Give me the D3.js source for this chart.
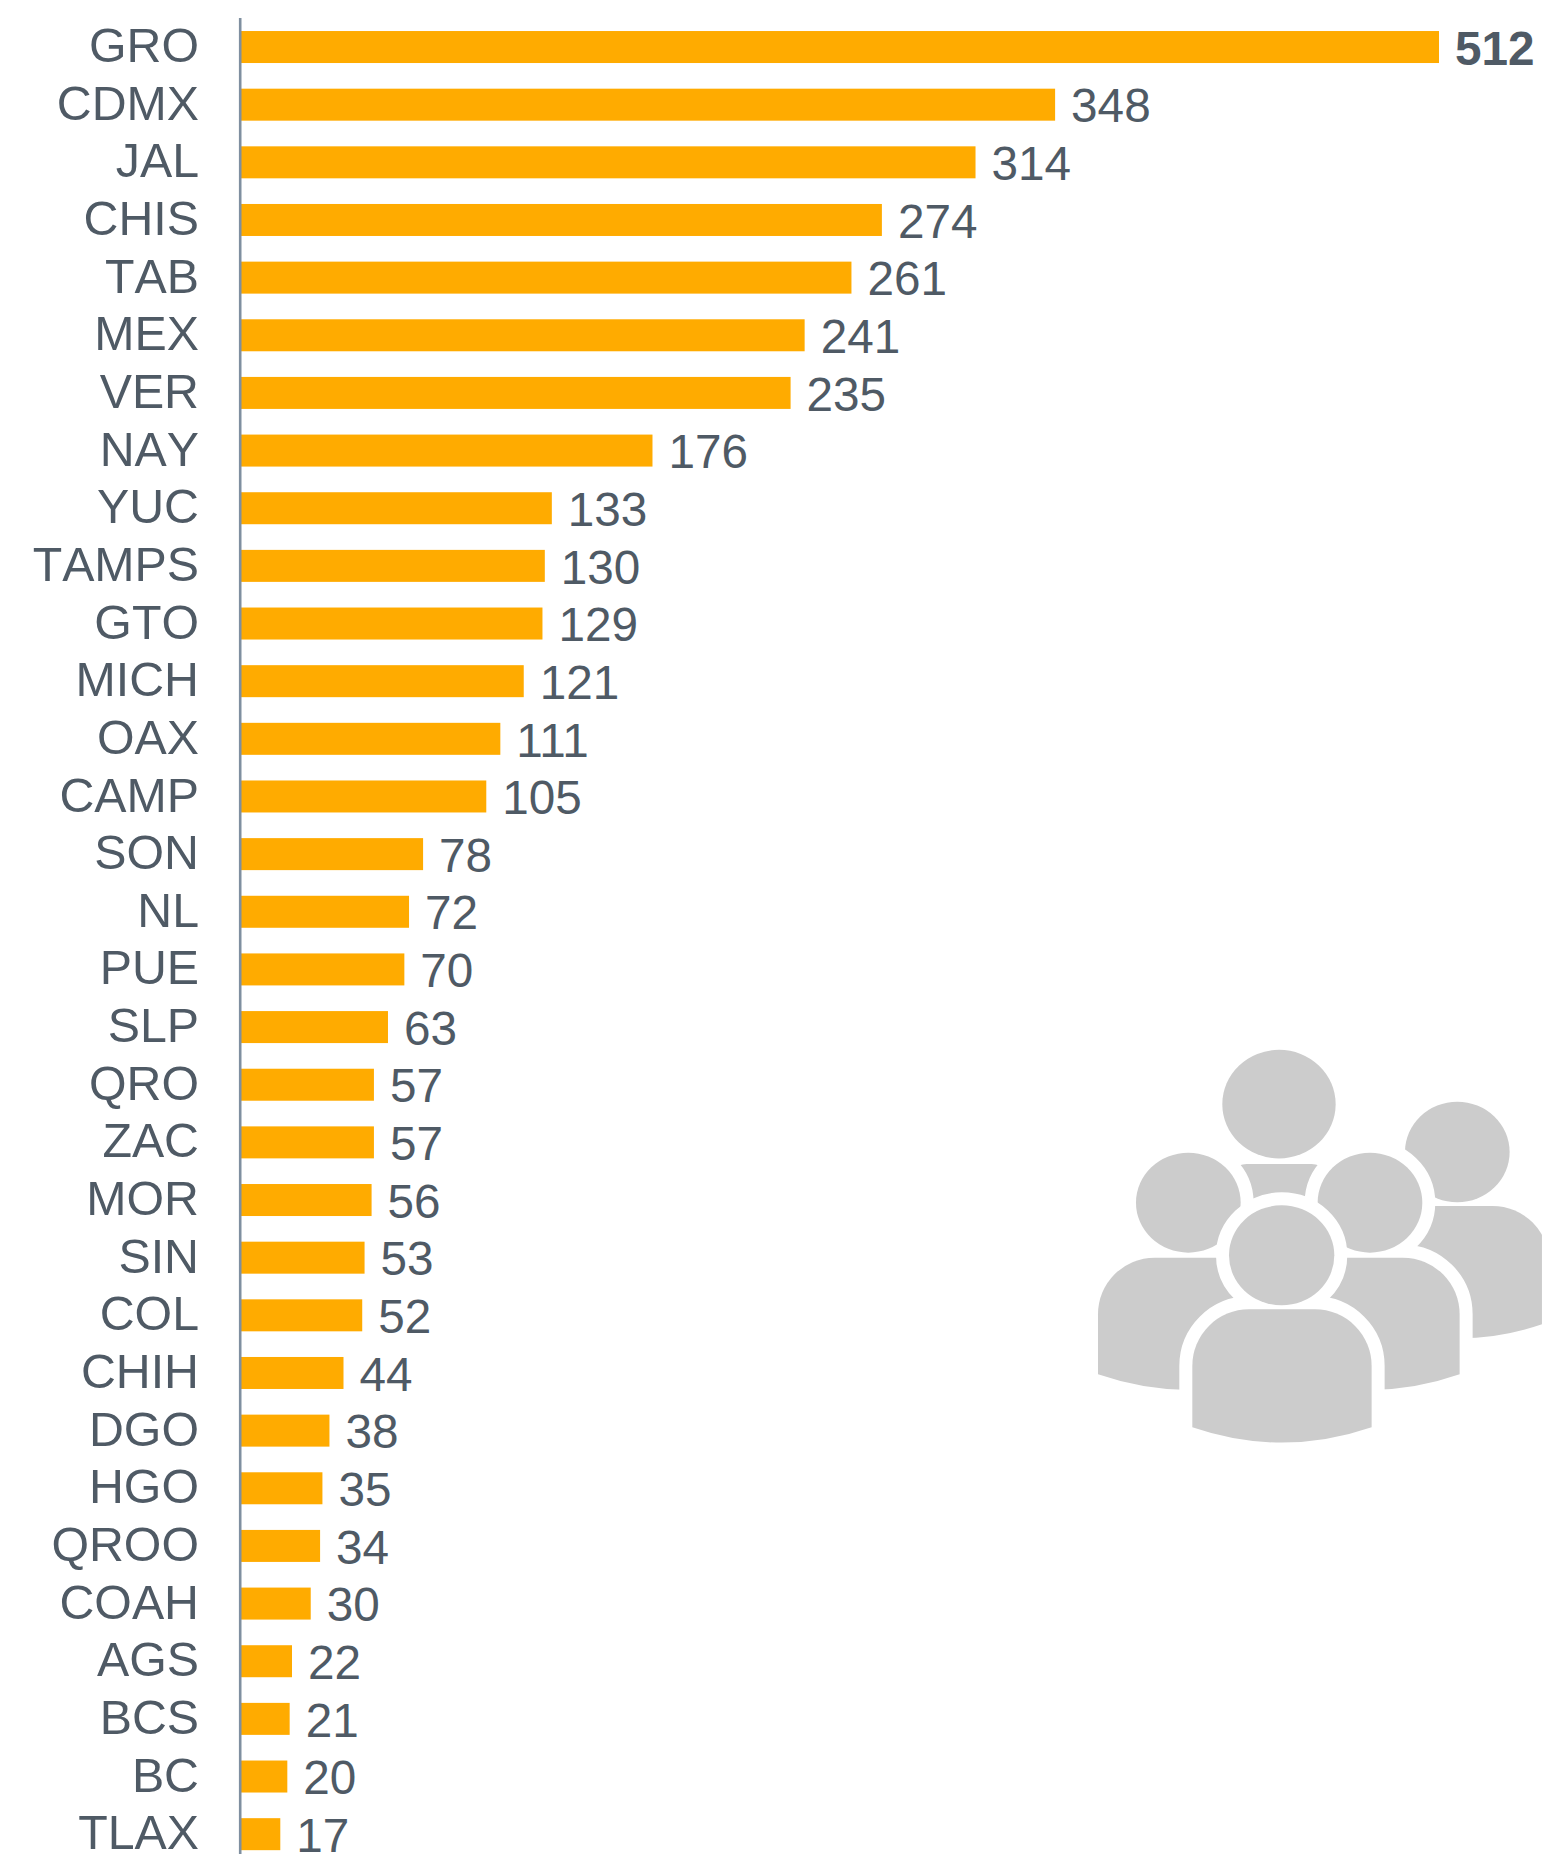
<!DOCTYPE html>
<html><head><meta charset="utf-8">
<script src="https://cdn.jsdelivr.net/npm/d3@7/dist/d3.min.js"></script>
<style>html,body{margin:0;padding:0;background:#fff;overflow:hidden}svg{display:block}text{font-family:"Liberation Sans",Arial,sans-serif;font-kerning:none}text.val{font-kerning:normal}</style>
</head><body><svg id="c" width="1542" height="1854"></svg>
<script>
const categories = ["GRO","CDMX","JAL","CHIS","TAB","MEX","VER","NAY","YUC","TAMPS","GTO","MICH","OAX","CAMP","SON","NL","PUE","SLP","QRO","ZAC","MOR","SIN","COL","CHIH","DGO","HGO","QROO","COAH","AGS","BCS","BC","TLAX"];
const values = [512,348,314,274,261,241,235,176,133,130,129,121,111,105,78,72,70,63,57,57,56,53,52,44,38,35,34,30,22,21,20,17];
const textColor = "#4f5a65", barColor = "#ffab00", axisColor = "#7f8fa0", iconColor = "#cccccc";

const svg = d3.select("#c");
const x = d3.scaleLinear().domain([0,512]).range([240.5,1439]);
const y = d3.scaleBand().domain(categories).range([18.2,18.2+57.65*categories.length]).paddingInner(0.445).paddingOuter(0.2225);

// Icon
const icon = svg.append("g").attr("transform","translate(1060,1020) scale(0.3333)");
svg.append("clipPath").attr("id","pg").append("rect").attr("x",0).attr("y",0).attr("width",1446).attr("height",1400);
const inner = icon.append("g").attr("clip-path","url(#pg)");
function person(cx, headY, rx, ry, bodyL, bodyR, top, sideBottom, bottom, corner){
  const mid = (bodyL+bodyR)/2;
  const d = `M${bodyL},${sideBottom} L${bodyL},${top+corner} A${corner},${corner} 0 0 1 ${bodyL+corner},${top} L${bodyR-corner},${top} A${corner},${corner} 0 0 1 ${bodyR},${top+corner} L${bodyR},${sideBottom} Q${mid},${2*bottom-sideBottom} ${bodyL},${sideBottom} Z`;
  const halo = inner.append("g").attr("fill","#fff").attr("stroke","#fff").attr("stroke-width",78);
  halo.append("path").attr("d",d);
  halo.append("ellipse").attr("cx",cx).attr("cy",headY).attr("rx",rx).attr("ry",ry);
  const g = inner.append("g").attr("fill",iconColor);
  g.append("path").attr("d",d);
  g.append("ellipse").attr("cx",cx).attr("cy",headY).attr("rx",rx).attr("ry",ry);
}
person(657,252.5,170,163,500,815,432,900,950,60);
person(1192,396,157,151,930,1468,558,905,955,170);
person(385,548,157,150,114,660,713,1063,1110,170);
person(930,548,157,150,661,1199,713,1063,1110,170);
person(665,706,158,150,397,935,868,1222,1268,170);

// Bars
svg.append("g").selectAll("rect").data(values).join("rect")
  .attr("x",x(0)).attr("y",(d,i)=>y(categories[i]))
  .attr("width",d=>x(d)-x(0)).attr("height",y.bandwidth()).attr("fill",barColor);

// Axis
const ax = svg.append("g").attr("transform","translate(199,-0.4)")
  .call(d3.axisLeft(y).tickSize(0).tickPadding(0));
ax.select(".domain").remove();
ax.selectAll("text").attr("font-size",48.3).attr("fill",textColor).attr("font-family",'"Liberation Sans",Arial,sans-serif');
svg.append("line").attr("x1",240.2).attr("x2",240.2).attr("y1",18).attr("y2",1854).attr("stroke",axisColor).attr("stroke-width",2.6);

// Values
svg.append("g").selectAll("text").data(values).join("text").attr("class","val")
  .attr("x",d=>x(d)+16).attr("y",(d,i)=>y(categories[i])+y.bandwidth()/2+17.7)
  .attr("font-size",47.7).attr("fill",textColor)
  .attr("font-weight",(d,i)=>i===0?"bold":"normal").text(d=>d);
</script></body></html>
